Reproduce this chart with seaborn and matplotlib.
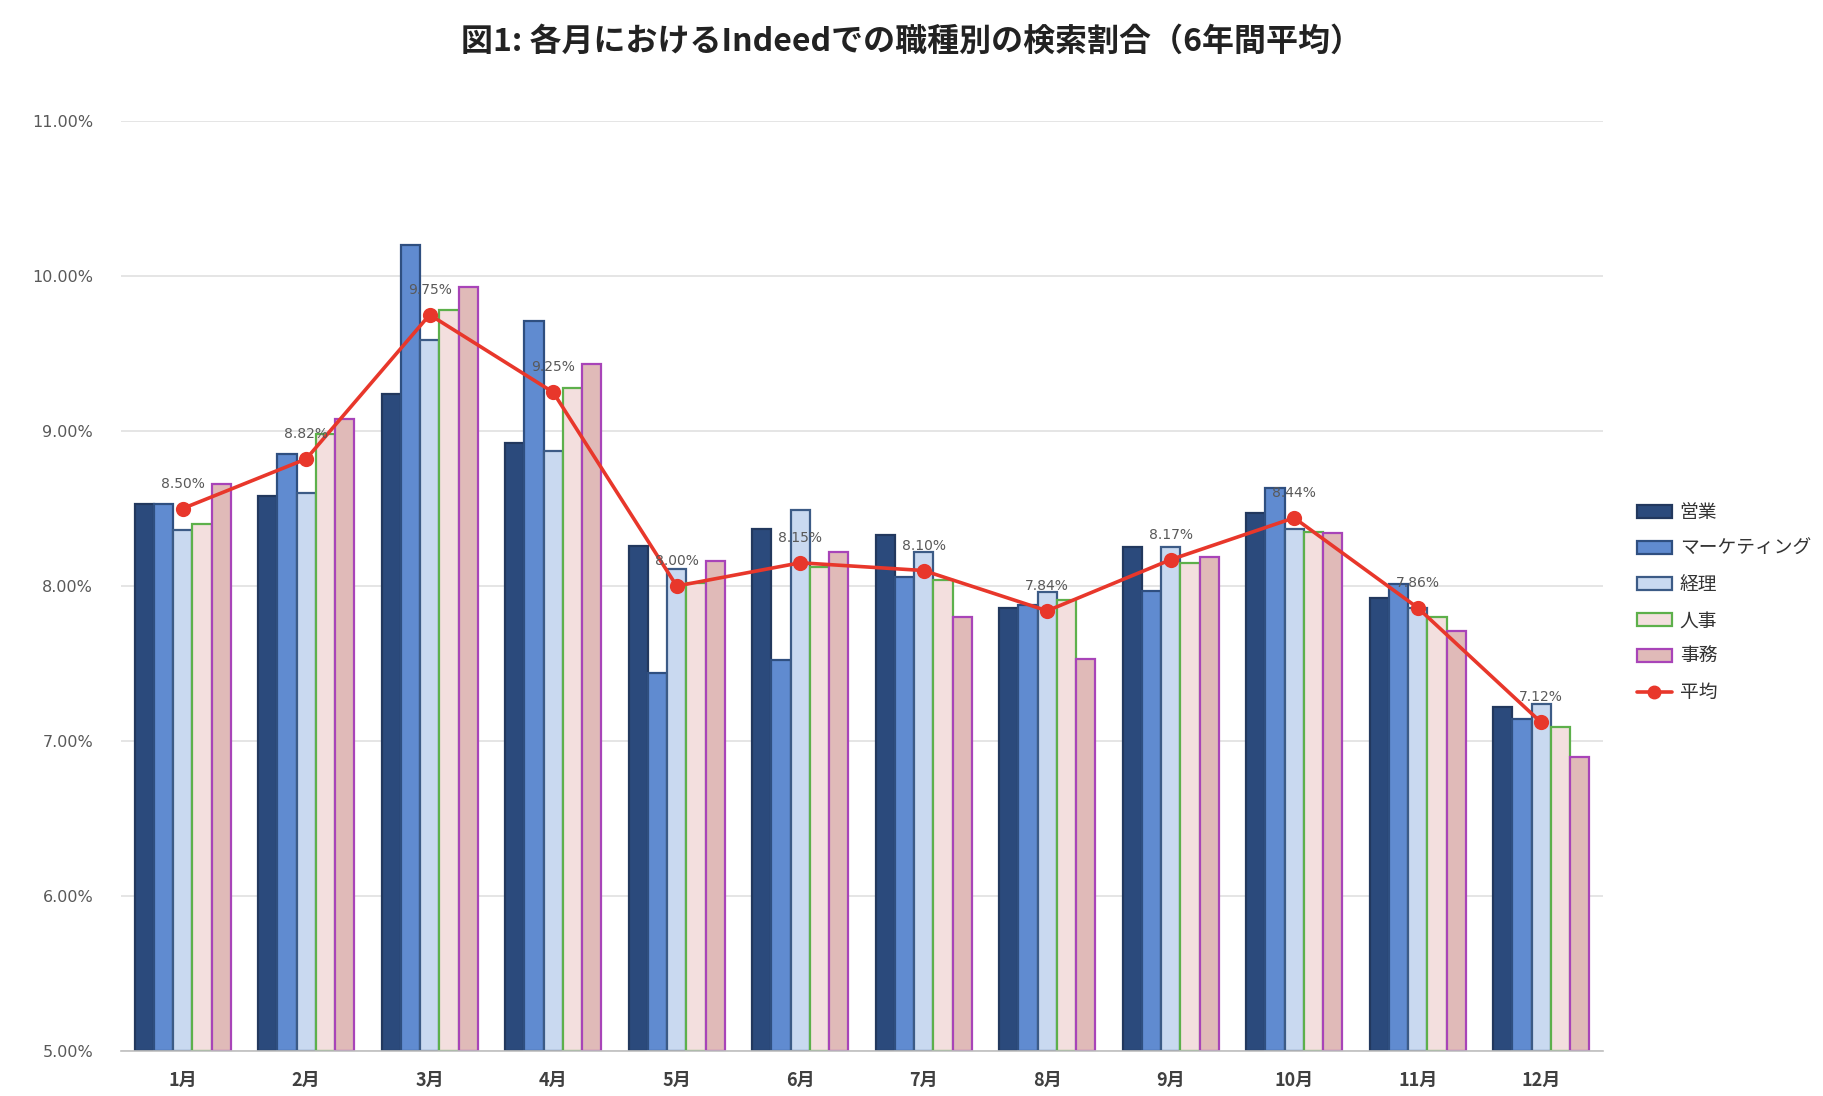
import pandas as pd
import seaborn as sns
import matplotlib
matplotlib.use("Agg")
import matplotlib.pyplot as plt
from matplotlib.patches import Patch
from matplotlib.lines import Line2D
from matplotlib.ticker import FixedLocator, NullFormatter

# data (search share, %)
months = ["1月", "2月", "3月", "4月", "5月", "6月", "7月", "8月", "9月", "10月", "11月", "12月"]
jobs = ["営業", "マーケティング", "経理", "人事", "事務"]
eigyo = [8.53, 8.58, 9.24, 8.92, 8.26, 8.37, 8.33, 7.86, 8.25, 8.47, 7.92, 7.22]
marketing = [8.53, 8.85, 10.20, 9.71, 7.44, 7.52, 8.06, 7.88, 7.97, 8.63, 8.01, 7.14]
keiri = [8.36, 8.60, 9.59, 8.87, 8.11, 8.49, 8.22, 7.96, 8.25, 8.37, 7.86, 7.24]
jinji = [8.40, 8.98, 9.78, 9.28, 8.02, 8.12, 8.04, 7.91, 8.15, 8.35, 7.80, 7.09]
jimu = [8.66, 9.08, 9.93, 9.43, 8.16, 8.22, 7.80, 7.53, 8.19, 8.34, 7.71, 6.90]
average = [8.50, 8.82, 9.75, 9.25, 8.00, 8.15, 8.10, 7.84, 8.17, 8.44, 7.86, 7.12]

fills = ["#2B4A7C", "#608BD0", "#C9D9F0", "#F3DFDE", "#E0BAB8"]
edges = ["#22385E", "#2F4F80", "#3C5B86", "#5DB04B", "#A844B8"]
red = "#E8372B"

rows = []
for job, vals in zip(jobs, [eigyo, marketing, keiri, jinji, jimu]):
    for m, v in zip(months, vals):
        rows.append({"month": m, "job": job, "value": v})
df = pd.DataFrame(rows)

sns.set_style("white")
plt.rcParams["font.family"] = ["Noto Sans CJK JP", "DejaVu Sans"]

fig = plt.figure(figsize=(18.24, 10.96), dpi=100)
ax = fig.add_axes([0.0663, 0.041, 0.8125, 0.8486])

sns.barplot(data=df, x="month", y="value", hue="job", order=months, hue_order=jobs,
            palette=fills, width=0.78, saturation=1, ax=ax, legend=False)

# bars start at the 5% baseline
for cont, ec in zip(ax.containers, edges):
    for p in cont.patches:
        h = p.get_height()
        p.set_y(5)
        p.set_height(h - 5)
        p.set_edgecolor(ec)
        p.set_linewidth(1.6)

sns.pointplot(x=months, y=average, order=months, color=red, markers="o",
              markersize=9, linewidth=2.6, ax=ax, zorder=5)
for i, v in enumerate(average):
    ax.annotate(f"{v:.2f}%", (i, v), xytext=(0, 18), textcoords="offset points",
                ha="center", va="center", fontsize=10, color="#595959", zorder=6,
                family=["DejaVu Sans"])

ax.set_ylim(5, 11)
ax.set_xlim(-0.5, 11.5)
ax.set_yticks([5, 6, 7, 8, 9, 10, 11])
ax.set_yticklabels([f"{t:.2f}%" for t in [5, 6, 7, 8, 9, 10, 11]])
ax.yaxis.grid(True, color="#E3E3E3", linewidth=1.3)
ax.set_axisbelow(True)
ax.tick_params(axis="y", length=0, pad=20, labelsize=11.5, labelcolor="#595959")
for lab in ax.get_yticklabels():
    lab.set_family("DejaVu Sans")
ax.tick_params(axis="x", which="major", length=0, pad=14, labelsize=13, labelcolor="#404040")
for lab in ax.get_xticklabels():
    lab.set_fontweight("bold")
ax.xaxis.set_minor_locator(FixedLocator([i - 0.5 for i in range(13)]))
ax.xaxis.set_minor_formatter(NullFormatter())
ax.tick_params(axis="x", which="minor", length=6, color="#BFBFBF", width=1.2)
for s in ["left", "right", "top"]:
    ax.spines[s].set_visible(False)
ax.spines["bottom"].set_color("#BFBFBF")
ax.spines["bottom"].set_linewidth(1.2)
ax.set_xlabel("")
ax.set_ylabel("")

handles = [Patch(facecolor=f, edgecolor=e, linewidth=1.6) for f, e in zip(fills, edges)]
handles.append(Line2D([], [], color=red, marker="o", markersize=9, linewidth=2.6))
fig.legend(handles, jobs + ["平均"], loc="center left", bbox_to_anchor=(0.888, 0.45),
           frameon=False, fontsize=13.5, handlelength=1.9, handleheight=0.65,
           labelspacing=0.8, handletextpad=0.4, labelcolor="#333333")

fig.suptitle("図1: 各月におけるIndeedでの職種別の検索割合（6年間平均）", x=0.5, y=0.976,
             fontsize=23, fontweight="bold", color="#222222")

fig.savefig("out.png", dpi=100)
